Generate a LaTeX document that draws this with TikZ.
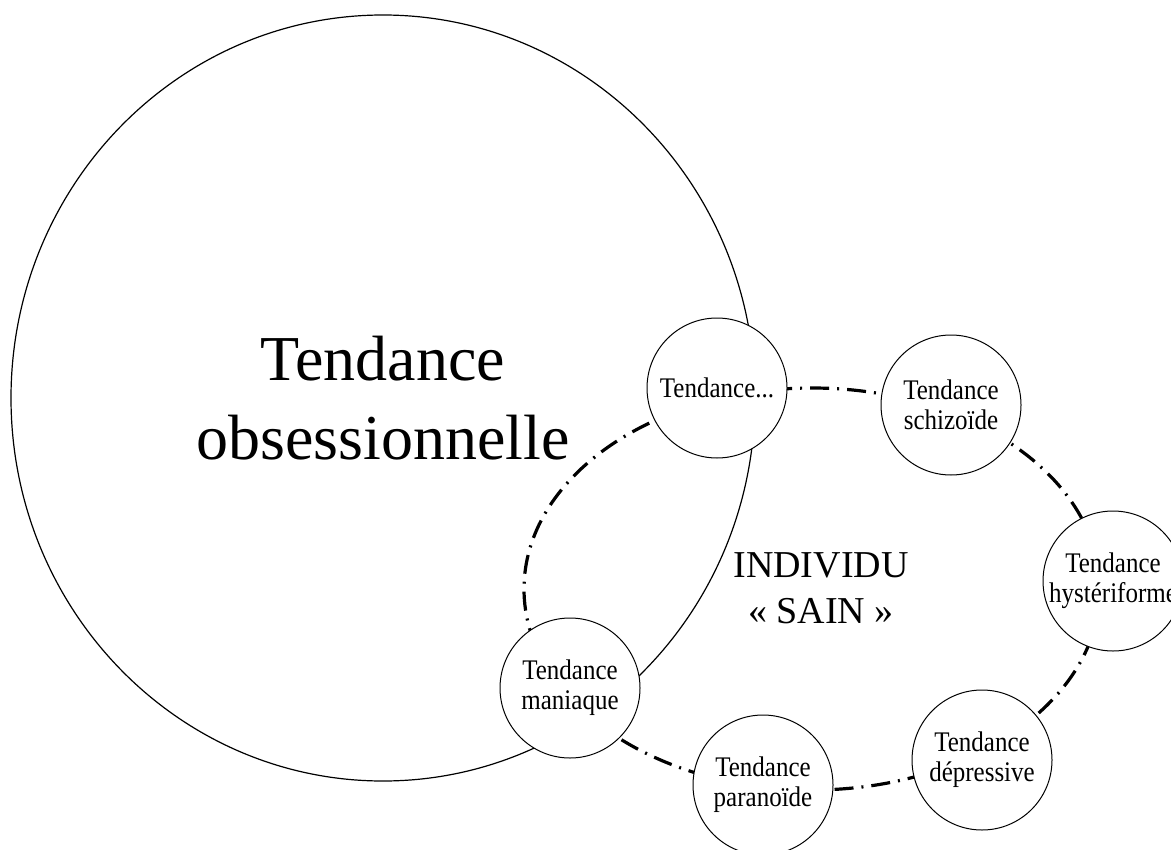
\documentclass[tikz,border=0pt]{standalone}
\usepackage{fontspec}
\setmainfont{Liberation Serif}
\newfontfamily\etroit[FakeStretch=0.88]{Liberation Serif}
\usetikzlibrary{shapes.geometric}

\tikzset{
	tendance/.style={circle, draw, fill=white, line width=0.5pt, minimum size=70pt, inner sep=0pt, align=center, font=\etroit\fontsize{14.2}{15}\selectfont},
	pointille/.style={line width=1.6pt, dash pattern=on 9.5pt off 4pt on 1pt off 4pt}
}

\begin{document}
\begin{tikzpicture}[x=0.5pt, y=-0.5pt]
		\useasboundingbox (0,0) rectangle (1171,850);
		%big circle
			\node [ellipse, draw, line width=0.6pt, minimum width=372pt, minimum height=383pt, inner sep=0pt, align=center, font=\fontsize{32}{39.5}\selectfont] (obsession) at (383,398) {Tendance\\obsessionnelle};
		%individu
			\coordinate (sain) at (812,589);
			\draw [pointille] (sain) ellipse [x radius=144pt, y radius=100.5pt];
			\node [align=center, font=\fontsize{19}{23}\selectfont] (individu) at (821,588) {INDIVIDU\\« SAIN »};
		%small circles
			% top
			\node [tendance] (points) at (717,388) {Tendance...};
			\node [tendance] (schizoide) at (951,405) {Tendance\\schizoïde};
			% right
			\node [tendance] (hysteriforme) at (1113,581) {Tendance\\hystériforme};
			% bottom
			\node [tendance] (depressive) at (982,760) {Tendance\\dépressive};
			\node [tendance] (paranoide) at (763,785) {Tendance\\paranoïde};
			\node [tendance] (maniaque) at (570,688) {Tendance\\maniaque};
\end{tikzpicture}
\end{document}
